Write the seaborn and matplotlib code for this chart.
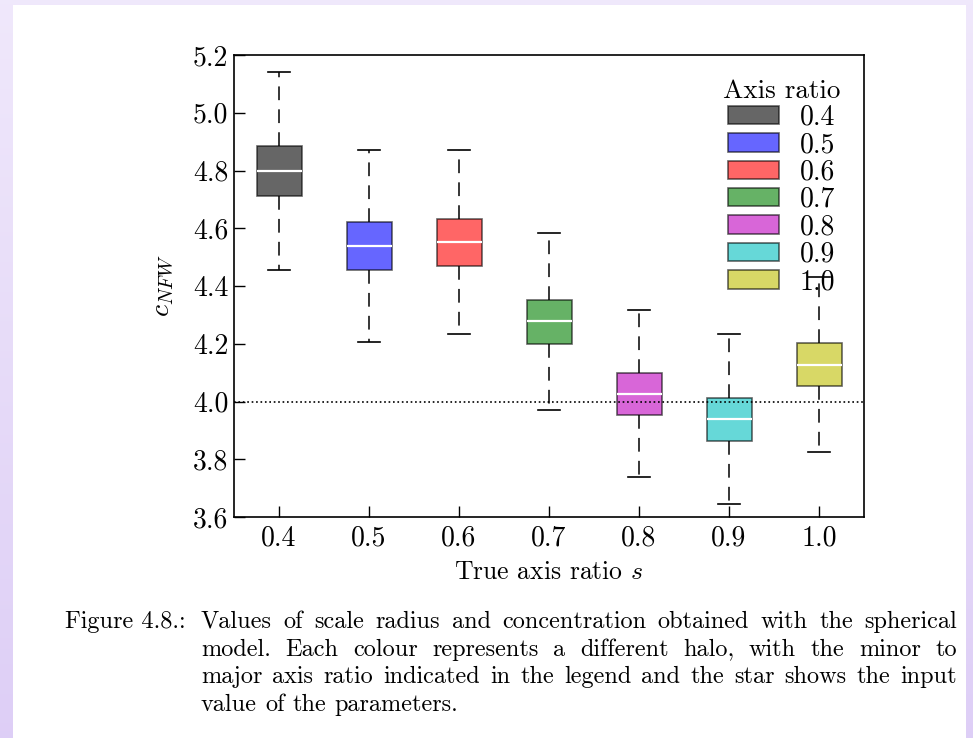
import numpy as np
import pandas as pd
import seaborn as sns
import matplotlib.pyplot as plt
from matplotlib.patches import Patch, Rectangle

# значения
ratios = ["0.4", "0.5", "0.6", "0.7", "0.8", "0.9", "1.0"]
whisk_lo = [4.455, 4.206, 4.234, 3.970, 3.738, 3.645, 3.826]
q1 = [4.713, 4.455, 4.470, 4.198, 3.953, 3.864, 4.053]
median = [4.798, 4.539, 4.552, 4.280, 4.026, 3.941, 4.128]
q3 = [4.885, 4.621, 4.632, 4.352, 4.098, 4.013, 4.204]
whisk_hi = [5.142, 4.871, 4.870, 4.585, 4.316, 4.233, 4.430]
input_c = 4.0

colors = ["k", "b", "r", "g", "m", "c", "y"]

caption_head = "Figure 4.8.:"
caption_lines = [
    "Values of scale radius and concentration obtained with the spherical",
    "model.  Each colour represents a different halo, with the minor to",
    "major axis ratio indicated in the legend and the star shows the input",
    "value of the parameters.",
]

# пять точек на категорию -> квартили и усы совпадают с картинкой
rows = []
for r, a, b, c, d, e in zip(ratios, whisk_lo, q1, median, q3, whisk_hi):
    for v in (a, b, c, d, e):
        rows.append({"ratio": r, "c": v})
df = pd.DataFrame(rows)

plt.rcParams["font.family"] = "cmr10"
plt.rcParams["mathtext.fontset"] = "cm"
plt.rcParams["axes.unicode_minus"] = False

W, H = 973, 738
fig = plt.figure(figsize=(W / 100, H / 100), dpi=100)

# фон: сиреневая рамка + белая страница
bg = fig.add_axes([0, 0, 1, 1], zorder=-10)
top = np.array([0.94, 0.91, 0.985])
bot = np.array([0.87, 0.81, 0.965])
t = np.linspace(0, 1, 200)[:, None, None]
grad = top * (1 - t) + bot * t
bg.imshow(grad, aspect="auto", extent=[0, 1, 0, 1])
bg.add_patch(Rectangle((13 / W, 0), (966 - 13) / W, (H - 5) / H,
                       facecolor="white", edgecolor="none"))
bg.set_xlim(0, 1)
bg.set_ylim(0, 1)
bg.axis("off")

ax = fig.add_axes([234 / W, 1 - 517 / H, (864 - 234) / W, (517 - 55) / H])
ax.set_facecolor("white")

palette = dict(zip(ratios, colors))
sns.boxplot(
    data=df, x="ratio", y="c", hue="ratio", palette=palette, order=ratios,
    hue_order=ratios, whis=(0, 100), width=0.5, saturation=1, linecolor="k",
    linewidth=1.2, legend=False, ax=ax,
    boxprops={"alpha": 0.6},
    medianprops={"color": "white", "linewidth": 1.6},
    whiskerprops={"color": "k", "linewidth": 1.1, "linestyle": (0, (9, 6))},
    capprops={"color": "k", "linewidth": 1.2},
)

ax.axhline(input_c, color="k", linestyle=":", linewidth=1.2, zorder=5)

ax.set_xlim(-0.5, 6.5)
ax.set_ylim(3.6, 5.2)
yt = np.round(np.arange(3.6, 5.21, 0.2), 1)
ax.set_yticks(yt)
ax.set_yticklabels([f"{v:.1f}" for v in yt])
ax.set_xticks(range(len(ratios)))
ax.set_xticklabels(ratios)
ax.tick_params(direction="in", length=8, width=1, top=False, right=False,
               labelsize=20)
ax.tick_params(axis="y", pad=4)
ax.tick_params(axis="x", pad=6)
for s in ax.spines.values():
    s.set_linewidth(1.2)

ax.set_xlabel("True axis ratio $s$", fontsize=18.5, labelpad=6)
ax.set_ylabel("$c_{NFW}$", fontsize=20, labelpad=12)

handles = [Patch(facecolor=c, edgecolor="k", alpha=0.6, linewidth=1.2)
           for c in colors]
ax.legend(handles, ratios, title="Axis ratio", loc="upper right",
          bbox_to_anchor=(0.962, 0.947), frameon=False, fontsize=20,
          title_fontsize=19.5, handlelength=1.85, handleheight=0.65,
          labelspacing=0.04, handletextpad=0.75, borderaxespad=0,
          borderpad=0)

# подпись к рисунку с выравниванием по ширине
fs = 17.5
renderer = fig.canvas.get_renderer()
fig.text(65 / W, 1 - 628 / H, caption_head, fontsize=fs, va="baseline")
x0, x1 = 201, 957
for i, line in enumerate(caption_lines):
    y = 1 - (628 + 27.7 * i) / H
    words = line.split()
    texts = [fig.text(0, y, w, fontsize=fs, va="baseline") for w in words]
    widths = [tx.get_window_extent(renderer).width for tx in texts]
    if i < len(caption_lines) - 1:
        gap = (x1 - x0 - sum(widths)) / (len(words) - 1)
    else:
        gap = fs * 100 / 72 * 0.33
    x = x0
    for tx, w in zip(texts, widths):
        tx.set_x(x / W)
        x += w + gap

fig.savefig("out.png", dpi=100)
